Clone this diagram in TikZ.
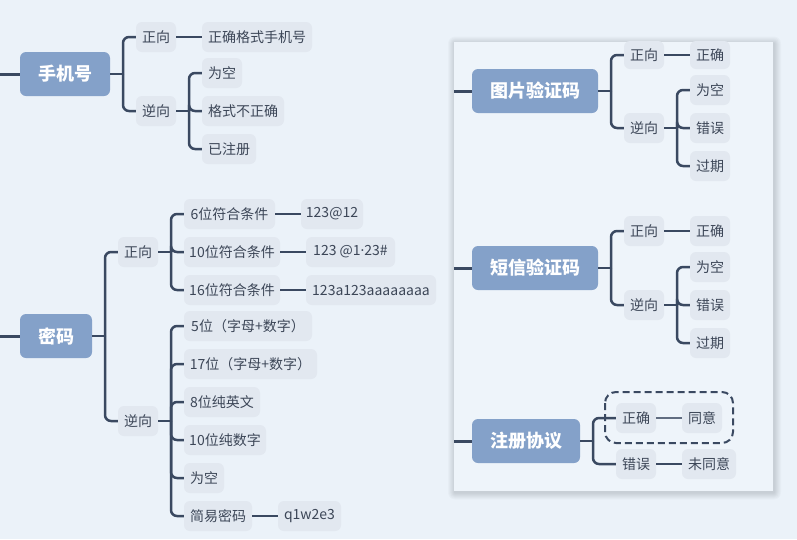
\documentclass[tikz,border=0pt]{standalone}
\usepackage{fontspec}
\setmainfont{Noto Sans CJK SC}
\newfontfamily\latinf{Noto Sans}
\usetikzlibrary{calc}
\definecolor{bg}{HTML}{EBF2F9}
\definecolor{panelbg}{HTML}{EEF4FA}
\definecolor{mainfill}{HTML}{84A1C9}
\definecolor{subfill}{HTML}{E2E8F0}
\definecolor{ln}{HTML}{3A4961}
\definecolor{txt}{HTML}{3C4657}
\tikzset{
 mainnode/.style={fill=mainfill, rounded corners=6pt, text=white, font=\fontsize{18}{20}\selectfont\bfseries, inner sep=0pt, minimum height=44pt},
 subnode/.style={fill=subfill, rounded corners=6pt, text=txt, font=\fontsize{14}{16}\selectfont, inner sep=0pt, minimum height=30pt},
 conn/.style={draw=ln, line width=2.5pt, rounded corners=6pt},
 rootline/.style={draw=ln, line width=3pt},
 dashbox/.style={draw=ln, line width=2pt, dashed, dash pattern=on 7pt off 4pt, rounded corners=11pt}
}
\begin{document}
\begin{tikzpicture}[x=1pt,y=-1pt]
\useasboundingbox (0,0) rectangle (797,539);
\fill[bg] (0,0) rectangle (797,539);
% panel with soft shadow
\foreach \i in {7,6,5,4,3,2,1}{
  \fill[black,opacity=0.018, rounded corners=\i pt] (454-\i+1,42-\i+1.5) rectangle (773+\i+1,491+\i+1.5);
}
\fill[panelbg] (454,42) rectangle (773,491);

% ---------- group 1: 手机号
\node[mainnode, minimum width=90pt] (m1) at (65,74) {手机号};
\node[subnode, minimum width=40pt] (a1) at (156,37) {正向};
\node[subnode, minimum width=110pt] (a11) at (257,37) {正确格式手机号};
\node[subnode, minimum width=40pt] (a2) at (156,111) {逆向};
\node[subnode, minimum width=40pt] (a21) at (222,73) {为空};
\node[subnode, minimum width=82pt] (a22) at (243,111) {格式不正确};
\node[subnode, minimum width=54pt] (a23) at (229,149) {已注册};
\coordinate (r1) at (0,74);
\coordinate (j1) at (123,74);
\coordinate (ja2) at (189,111);
\draw[rootline] (r1) -- (m1.west);
\draw[conn] (m1.east) -- (j1);
\draw[conn] (j1) |- (a1.west);
\draw[conn] (j1) |- (a2.west);
\draw[conn] (a1.east) -- (a11.west);
\draw[conn] (a2.east) -- (ja2);
\draw[conn] (ja2) |- (a21.west);
\draw[conn] (ja2) |- (a22.west);
\draw[conn] (ja2) |- (a23.west);

% ---------- group 2: 密码
\node[mainnode, minimum width=72pt] (m2) at (56,336) {密码};
\node[subnode, minimum width=40pt] (b1) at (138,252) {正向};
\node[subnode, minimum width=91pt] (b11) at (229.5,214) {6位符合条件};
\node[subnode, minimum width=62pt] (b111) at (332,214) {123@12};
\node[subnode, minimum width=96pt] (b12) at (232,252) {10位符合条件};
\node[subnode, minimum width=89pt] (b121) at (350.5,252) {123 @1{\latinf ·}23\#};
\node[subnode, minimum width=96pt] (b13) at (232,290) {16位符合条件};
\node[subnode, minimum width=130pt] (b131) at (371,290) {123a123aaaaaaaa};
\node[subnode, minimum width=40pt] (b2) at (138,421) {逆向};
\node[subnode, minimum width=128pt] (b21) at (248,326) {5位（字母+数字）};
\node[subnode, minimum width=133pt] (b22) at (250.5,364) {17位（字母+数字）};
\node[subnode, minimum width=76pt] (b23) at (222,402) {8位纯英文};
\node[subnode, minimum width=82pt] (b24) at (225,440) {10位纯数字};
\node[subnode, minimum width=40pt] (b25) at (204,478) {为空};
\node[subnode, minimum width=68pt] (b26) at (218,516) {简易密码};
\node[subnode, minimum width=63pt] (b261) at (309.5,516) {q1w2e3};
\coordinate (r2) at (0,336);
\coordinate (j2) at (105,336);
\coordinate (jb1) at (171,252);
\coordinate (jb2) at (171,421);
\draw[rootline] (r2) -- (m2.west);
\draw[conn] (m2.east) -- (j2);
\draw[conn] (j2) |- (b1.west);
\draw[conn] (j2) |- (b2.west);
\draw[conn] (b1.east) -- (jb1);
\foreach \c in {b11,b12,b13}{\draw[conn] (jb1) |- (\c.west);}
\draw[conn] (b11.east) -- (b111.west);
\draw[conn] (b12.east) -- (b121.west);
\draw[conn] (b13.east) -- (b131.west);
\draw[conn] (b2.east) -- (jb2);
\foreach \c in {b21,b22,b23,b24,b25,b26}{\draw[conn] (jb2) |- (\c.west);}
\draw[conn] (b26.east) -- (b261.west);

% ---------- group 3: 图片验证码
\node[mainnode, minimum width=126pt] (m3) at (535,91) {图片验证码};
\node[subnode, minimum width=40pt, minimum height=28pt] (c1) at (644,55) {正向};
\node[subnode, minimum width=40pt, minimum height=28pt] (c11) at (710,55) {正确};
\node[subnode, minimum width=40pt] (c2) at (644,128) {逆向};
\node[subnode, minimum width=40pt] (c21) at (710,90) {为空};
\node[subnode, minimum width=40pt] (c22) at (710,128) {错误};
\node[subnode, minimum width=40pt] (c23) at (710,166) {过期};
\coordinate (r3) at (454,91);
\coordinate (j3) at (611,91);
\coordinate (jc2) at (677,128);
\draw[rootline] (r3) -- (m3.west);
\draw[conn] (m3.east) -- (j3);
\draw[conn] (j3) |- (c1.west);
\draw[conn] (j3) |- (c2.west);
\draw[conn] (c1.east) -- (c11.west);
\draw[conn] (c2.east) -- (jc2);
\foreach \c in {c21,c22,c23}{\draw[conn] (jc2) |- (\c.west);}

% ---------- group 4: 短信验证码
\node[mainnode, minimum width=126pt] (m4) at (535,268) {短信验证码};
\node[subnode, minimum width=40pt] (d1) at (644,231) {正向};
\node[subnode, minimum width=40pt] (d11) at (710,231) {正确};
\node[subnode, minimum width=40pt] (d2) at (644,305) {逆向};
\node[subnode, minimum width=40pt] (d21) at (710,267) {为空};
\node[subnode, minimum width=40pt] (d22) at (710,305) {错误};
\node[subnode, minimum width=40pt] (d23) at (710,343) {过期};
\coordinate (r4) at (454,268);
\coordinate (j4) at (611,268);
\coordinate (jd2) at (677,305);
\draw[rootline] (r4) -- (m4.west);
\draw[conn] (m4.east) -- (j4);
\draw[conn] (j4) |- (d1.west);
\draw[conn] (j4) |- (d2.west);
\draw[conn] (d1.east) -- (d11.west);
\draw[conn] (d2.east) -- (jd2);
\foreach \c in {d21,d22,d23}{\draw[conn] (jd2) |- (\c.west);}

% ---------- group 5: 注册协议
\node[mainnode, minimum width=108pt] (m5) at (526,441) {注册协议};
\node[subnode, minimum width=40pt] (e1) at (636,418) {正确};
\node[subnode, minimum width=40pt] (e11) at (702,418) {同意};
\node[subnode, minimum width=40pt] (e2) at (636,464) {错误};
\node[subnode, minimum width=54pt] (e21) at (709,464) {未同意};
\coordinate (r5) at (454,441);
\coordinate (j5) at (593,441);
\draw[rootline] (r5) -- (m5.west);
\draw[conn] (m5.east) -- (j5);
\draw[conn] (j5) |- (e1.west);
\draw[conn] (j5) |- (e2.west);
\draw[conn, draw=ln!80] (e1.east) -- (e11.west);
\draw[conn] (e2.east) -- (e21.west);
\draw[dashbox] (605,392) rectangle (733,443);
\end{tikzpicture}
\end{document}
